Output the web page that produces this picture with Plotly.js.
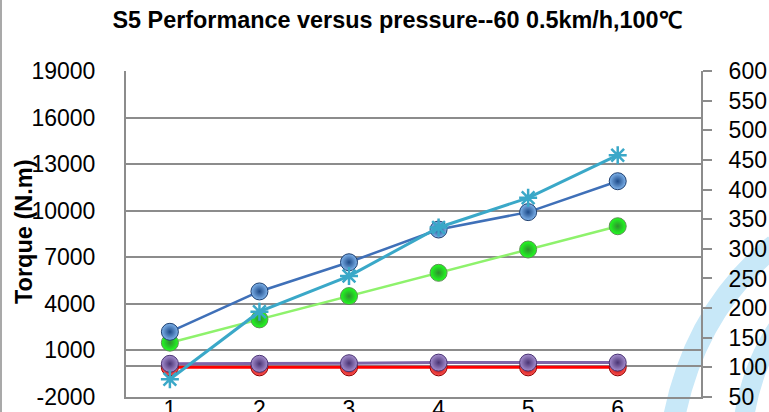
<!DOCTYPE html>
<html>
<head>
<meta charset="utf-8">
<script src="https://cdn.plot.ly/plotly-3.0.1.min.js"></script>
<style>html,body{margin:0;padding:0;background:#fff;}#chart{width:769px;height:412px;}</style>
</head>
<body>
<div id="chart"></div>
<script>
// Data
const categories = [1, 2, 3, 4, 5, 6];
const tickLabels = ["1", "2", "3", "4", "5", "6"];
const leftTicks = [-2000, 1000, 4000, 7000, 10000, 13000, 16000, 19000];
const leftTickLabels = ["-2000", "1000", "4000", "7000", "10000", "13000", "16000", "19000"];
const rightTicks = [50, 100, 150, 200, 250, 300, 350, 400, 450, 500, 550, 600];
const rightTickLabels = ["50", "100", "150", "200", "250", "300", "350", "400", "450", "500", "550", "600"];
// left axis (Torque, N.m)
const seriesBlue  = [2200, 4800, 6680, 8790, 9910, 11900];
const seriesGreen = [1500, 3000, 4500, 6000, 7500, 9000];
// right axis
const seriesCyan   = [80, 194, 254, 336, 386, 458];
const seriesPurple = [106, 106, 107, 108, 108, 108];
const seriesRed    = [100, 100, 100, 100, 100, 100];

const FONT = "Liberation Sans, Arial, sans-serif";
const GRID = "#8c8c8c";

function sphere(c, edge, line) {
  return {size: 17, color: c, gradient: {type: "radial", color: edge}, line: {color: line, width: 1}};
}

const traces = [
  {x: categories, y: seriesRed, yaxis: "y2", mode: "lines+markers", name: "Red",
   line: {color: "#ff0000", width: 3}, marker: sphere("#ff5050", "#a00000", "#900000")},
  {x: categories, y: seriesPurple, yaxis: "y2", mode: "lines+markers", name: "Purple",
   line: {color: "#7f64a8", width: 3}, marker: sphere("#a690d0", "#4a3473", "#4a3473")},
  {x: categories, y: seriesGreen, yaxis: "y", mode: "lines+markers", name: "Green",
   line: {color: "#8ef26c", width: 2.5}, marker: sphere("#20ff20", "#2f8f2f", "#5f8f55")},
  {x: categories, y: seriesBlue, yaxis: "y", mode: "lines+markers", name: "Blue",
   line: {color: "#3f70b8", width: 2.5}, marker: sphere("#80b4ec", "#1d4a88", "#1d3f70")},
  {x: categories, y: seriesCyan, yaxis: "y2", mode: "lines+markers", name: "Cyan",
   line: {color: "#3aa8c8", width: 3},
   marker: {symbol: "asterisk-open", size: 15, line: {color: "#62a2b8", width: 2.5}}}
];

function px2x(p) { return (p - 126) / 575; }
function px2y(p) { return (397 - p) / 326; }
function pt(a, b) { return px2x(a).toFixed(4) + "," + px2y(b).toFixed(4); }

const layout = {
  width: 769, height: 412,
  margin: {l: 126, r: 68, t: 71, b: 15, pad: 0},
  paper_bgcolor: "#ffffff",
  plot_bgcolor: "rgba(0,0,0,0)",
  showlegend: false,
  font: {family: FONT, color: "#000", size: 23},
  title: {
    text: "<b>S5 Performance versus pressure--60 0.5km/h,100℃</b>",
    font: {family: FONT, size: 23.4, color: "#000"},
    xref: "container", yref: "container",
    x: 397 / 769, xanchor: "center",
    y: 1 - 20 / 412, yanchor: "middle"
  },
  xaxis: {
    range: [0.51, 6.93], tickmode: "array", tickvals: categories, ticktext: tickLabels,
    showgrid: false, zeroline: false, showline: true, linecolor: GRID, linewidth: 2,
    ticks: "", ticklabelstandoff: -10
  },
  yaxis: {
    range: [-2000, 19000], tickmode: "array", tickvals: leftTicks, ticktext: leftTickLabels,
    showgrid: true, gridcolor: GRID, gridwidth: 2,
    zeroline: true, zerolinecolor: GRID, zerolinewidth: 2,
    showline: true, linecolor: GRID, linewidth: 2,
    ticks: "", ticklabelstandoff: 24
  },
  yaxis2: {
    overlaying: "y", side: "right", range: [50, 600],
    tickmode: "array", tickvals: rightTicks, ticktext: rightTickLabels,
    showgrid: false, zeroline: false, showline: true, linecolor: GRID, linewidth: 2,
    ticks: "outside", ticklen: 9, tickcolor: GRID, tickwidth: 2,
    ticklabelstandoff: 12
  },
  annotations: [
    {text: "<b>Torque (N.m)</b>", textangle: -90, showarrow: false,
     xref: "paper", yref: "paper", x: px2x(24), y: px2y(232),
     xanchor: "center", yanchor: "middle", font: {family: FONT, size: 23.5, color: "#000"}}
  ],
  shapes: [
    {type: "path", xref: "paper", yref: "paper", layer: "below",
     path: "M " + pt(775, 245) + " Q " + pt(695, 310) + " " + pt(674, 418),
     line: {color: "#c8e8f8", width: 22}},
    {type: "path", xref: "paper", yref: "paper", layer: "below",
     path: "M " + pt(780, 325) + " Q " + pt(752, 365) + " " + pt(744, 418),
     line: {color: "#c8e8f8", width: 20}},
    {type: "line", xref: "paper", yref: "paper", layer: "above",
     x0: px2x(1), x1: px2x(1), y0: px2y(0), y1: px2y(412),
     line: {color: "#8c8c8c", width: 1.5}}
  ]
};

Plotly.newPlot("chart", traces, layout, {staticPlot: true, displayModeBar: false});
</script>
</body>
</html>
